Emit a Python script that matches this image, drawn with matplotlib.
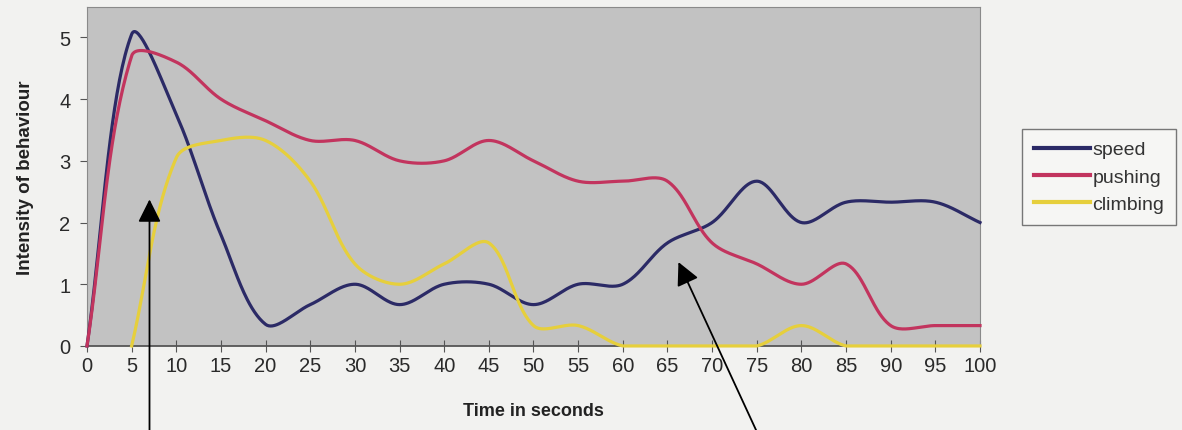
import numpy as np
import matplotlib.pyplot as plt

# data, one point every 5 seconds
time = [0, 5, 10, 15, 20, 25, 30, 35, 40, 45, 50, 55, 60, 65, 70, 75, 80, 85, 90, 95, 100]
speed = [0, 5.05, 3.75, 1.8, 0.35, 0.67, 1.0, 0.67, 1.0, 1.0, 0.67, 1.0, 1.0, 1.67, 2.0, 2.67, 2.0, 2.33, 2.33, 2.33, 2.0]
pushing = [0, 4.7, 4.6, 4.0, 3.65, 3.33, 3.33, 3.0, 3.0, 3.33, 3.0, 2.67, 2.67, 2.67, 1.67, 1.33, 1.0, 1.33, 0.33, 0.33, 0.33]
climb_time = [5, 10, 15, 20, 25, 30, 35, 40, 45, 50, 55, 60, 65, 70, 75, 80, 85, 90, 95, 100]
climbing = [0, 3.05, 3.33, 3.33, 2.67, 1.33, 1.0, 1.33, 1.67, 0.33, 0.33, 0, 0, 0, 0, 0.33, 0, 0, 0, 0]

series_names = ["speed", "pushing", "climbing"]
colors = ["#2b2a66", "#c2345e", "#e6cf3c"]

plt.rcParams["font.family"] = ["Liberation Sans", "DejaVu Sans"]


def smooth(x, y, n=40, sx=8.93, sy=61.8, k=1 / 3):
    """Bezier smoothing like Excel: tangents scaled by neighbouring segment lengths (in screen units)."""
    P = np.column_stack([np.asarray(x, float) * sx, np.asarray(y, float) * sy])
    m = len(P)
    out = []
    t = np.linspace(0, 1, n, endpoint=False)[:, None]
    for i in range(m - 1):
        p0 = P[max(i - 1, 0)]
        p1, p2 = P[i], P[i + 1]
        p3 = P[min(i + 2, m - 1)]
        d01 = np.hypot(*(p1 - p0))
        d12 = np.hypot(*(p2 - p1))
        d23 = np.hypot(*(p3 - p2))
        f1 = d12 / (d01 + d12) if d01 + d12 > 0 else 0
        f2 = d12 / (d12 + d23) if d12 + d23 > 0 else 0
        c1 = p1 + (p2 - p0) * f1 * k
        c2 = p2 - (p3 - p1) * f2 * k
        seg = (1 - t) ** 3 * p1 + 3 * (1 - t) ** 2 * t * c1 + 3 * (1 - t) * t ** 2 * c2 + t ** 3 * p2
        out.append(seg)
    out.append(P[-1:])
    out = np.vstack(out)
    return out[:, 0] / sx, out[:, 1] / sy


fig = plt.figure(figsize=(11.82, 4.31), dpi=100, facecolor="#f2f2f0")
ax = fig.add_axes([0.0736, 0.195, 0.7555, 0.786])
ax.set_facecolor("#c2c2c2")

for (xv, yv), name, c in zip([(time, speed), (time, pushing), (climb_time, climbing)], series_names, colors):
    cx, cy = smooth(xv, yv)
    if name == "climbing":
        cy = np.clip(cy, 0, None)
    ax.plot(cx, cy, color=c, lw=2.3, label=name, clip_on=False, zorder=3)

ax.set_xlim(0, 100)
ax.set_ylim(0, 5.49)
ax.set_xticks(range(0, 101, 5))
ax.set_yticks(range(0, 6))
ax.tick_params(axis="x", direction="inout", length=8, colors="#555555", labelcolor="#2a2a2a",
               labelsize=14.5, pad=3)
ax.tick_params(axis="y", direction="out", length=5, colors="#555555", labelcolor="#2a2a2a",
               labelsize=14.5, pad=7)
for side in ["top", "right", "left"]:
    ax.spines[side].set_color("#8a8a8a")
ax.spines["bottom"].set_color("#555555")
ax.spines["bottom"].set_linewidth(1.3)

ax.set_xlabel("Time in seconds", fontsize=13, fontweight="bold", color="#222222", labelpad=20)
ax.set_ylabel("Intensity of behaviour", fontsize=13.5, fontweight="bold", color="#222222", labelpad=18)

# the two pointer arrows coming up from below the chart
arrow = dict(arrowstyle="-|>,head_length=1.4,head_width=0.7", color="black", lw=1.3)
ax.annotate("", xy=(7.0, 2.42), xytext=(7.0, -1.45), arrowprops=arrow, annotation_clip=False)
ax.annotate("", xy=(66.1, 1.40), xytext=(75.2, -1.45), arrowprops=arrow, annotation_clip=False)

leg = ax.legend(loc="upper left", bbox_to_anchor=(0.865, 0.698), bbox_transform=fig.transFigure,
                borderaxespad=0, fancybox=False, edgecolor="#777777", facecolor="#f6f6f4",
                framealpha=1, fontsize=14, handlelength=2.9, handletextpad=0.1,
                borderpad=0.6, labelspacing=0.5)
leg.get_frame().set_linewidth(1.0)
for line in leg.get_lines():
    line.set_linewidth(3)
for txt in leg.get_texts():
    txt.set_color("#333333")

fig.savefig("out.png", dpi=100, facecolor=fig.get_facecolor())
